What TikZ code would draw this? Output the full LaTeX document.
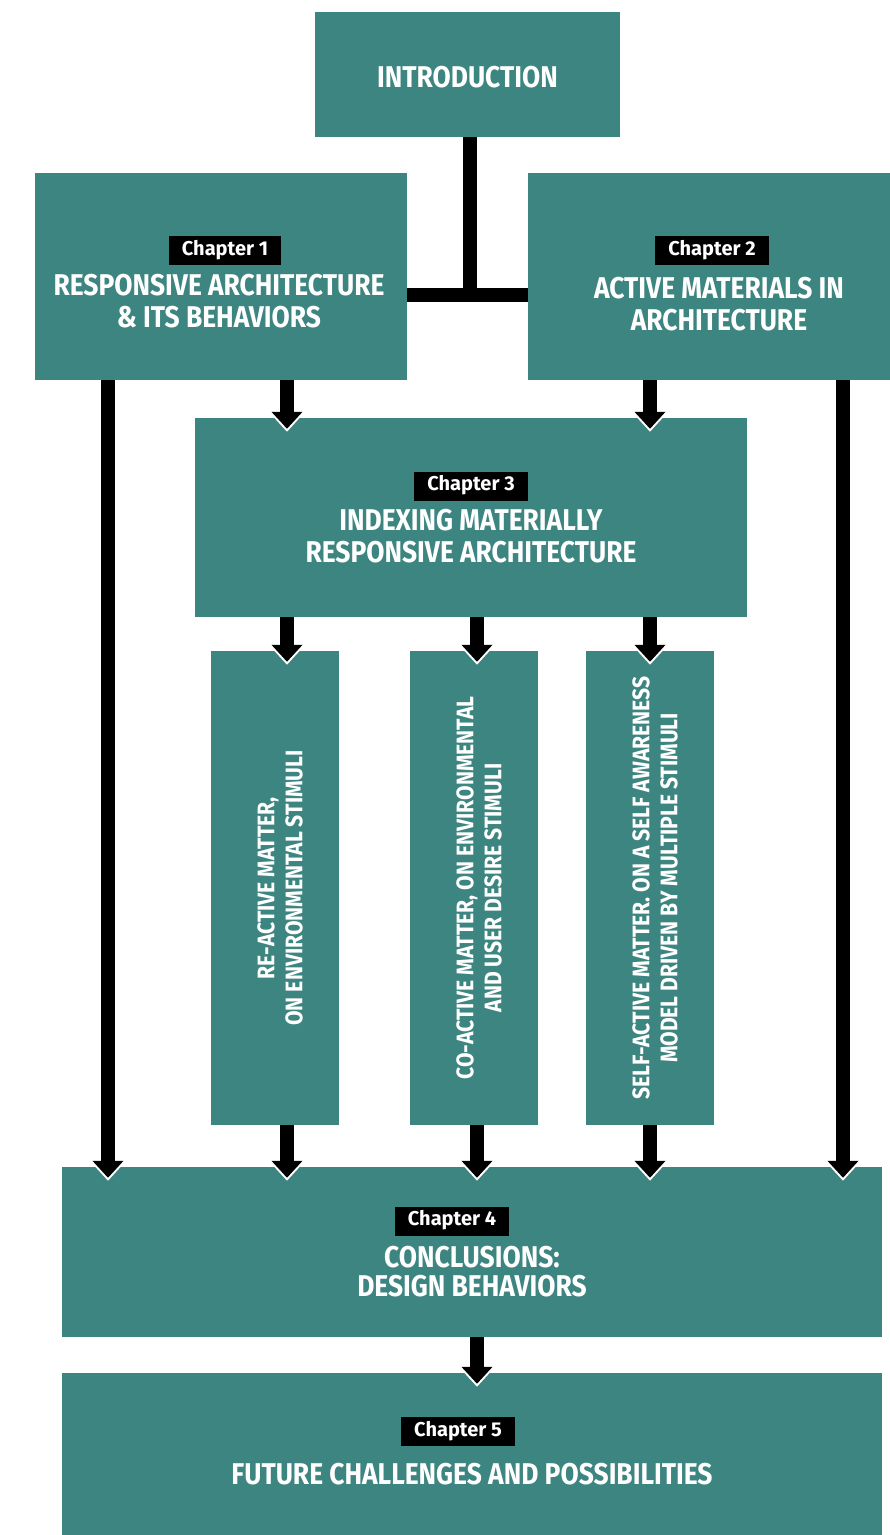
\documentclass[tikz,border=0pt]{standalone}
\usepackage{fontspec}
\setmainfont{Fira Sans}[FakeStretch=0.88]
\newfontfamily\tagfont{Fira Sans}
\usepackage{xcolor}
\usetikzlibrary{arrows.meta}

\definecolor{chapterteal}{HTML}{3D8580}
% optional argument: trailing space, nudges the tag sideways by half of it
\newcommand{\chaptertag}[2][0pt]{{\tagfont\fontsize{20}{19}\selectfont\setlength{\fboxsep}{4pt}\colorbox{black}{\strut\hspace{9pt}#2\hspace{9pt}}\hspace*{#1}}}

\begin{document}
\begin{tikzpicture}[x=1pt, y=-1pt,
    box/.style={fill=chapterteal, inner sep=0pt},
    boxtext/.style={text=white, inner sep=0pt, align=center, font=\bfseries\fontsize{30}{32}\selectfont},
    vtext/.style={text=white, inner sep=0pt, align=center, rotate=90, font=\bfseries\fontsize{24}{28}\selectfont},
    bar/.style={line width=14pt, draw=black},
    flow/.style={line width=14pt, draw=black, shorten >=-11pt, -{Triangle[width=30pt,length=17pt]},
        preaction={draw=white, line width=14pt, shorten >=-14pt, -{Triangle[width=37pt,length=21pt]}}}]

    \useasboundingbox (0,0) rectangle (890,1535);

    % Chapter boxes
    \node[box, minimum width=305pt, minimum height=125pt] (intro) at (467.5,74.5) {};
    \node[box, minimum width=372pt, minimum height=207pt] (ch1) at (221,276.5) {};
    \node[box, minimum width=362pt, minimum height=207pt] (ch2) at (709,276.5) {};
    \node[box, minimum width=552pt, minimum height=199pt] (ch3) at (471,517.5) {};
    \node[box, minimum width=820pt, minimum height=170pt] (ch4) at (472,1252) {};
    \node[box, minimum width=820pt, minimum height=162pt] (ch5) at (472,1454) {};

    % Chapter titles
    \node[boxtext] (introtitle) at ([yshift=-3pt]intro.center) {INTRODUCTION};
    \node[boxtext] (ch1title) at ([xshift=-2pt, yshift=-5.5pt]ch1.center) {\chaptertag[-12pt]{Chapter 1}\\[8pt] RESPONSIVE ARCHITECTURE\\ \& ITS BEHAVIORS};
    \node[boxtext] (ch2title) at ([xshift=10pt, yshift=-7pt]ch2.center) {\chaptertag[14pt]{Chapter 2}\\[11pt] ACTIVE MATERIALS IN\\ ARCHITECTURE};
    \node[boxtext] (ch3title) at (ch3.center) {\chaptertag{Chapter 3}\\[8pt] INDEXING MATERIALLY\\ RESPONSIVE ARCHITECTURE};
    \node[boxtext] (ch4title) at (ch4.center) {\chaptertag[40pt]{Chapter 4}\\[10pt] CONCLUSIONS:\\[-3pt] DESIGN BEHAVIORS};
    \node[boxtext] (ch5title) at ([yshift=3pt]ch5.center) {\chaptertag[28pt]{Chapter 5}\\[16pt] FUTURE CHALLENGES AND POSSIBILITIES};

    % Behaviour columns
    \node[box, minimum width=128pt, minimum height=474pt] (reA) at (275,888) {};
    \node[box, minimum width=128pt, minimum height=474pt] (coB) at (474,888) {};
    \node[box, minimum width=128pt, minimum height=474pt] (selfC) at (650,888) {};
    \node[vtext] (reAtext) at ([xshift=5pt]reA.center) {RE-ACTIVE MATTER,\\ ON ENVIRONMENTAL STIMULI};
    \node[vtext] (coBtext) at ([xshift=5pt]coB.center) {CO-ACTIVE MATTER, ON ENVIRONMENTAL\\ AND USER DESIRE STIMULI};
    \node[vtext] (selfCtext) at ([xshift=5pt]selfC.center) {SELF-ACTIVE MATTER. ON A SELF AWARENESS\\ MODEL DRIVEN BY MULTIPLE STIMULI};

    % Lanes for the arrows
    \coordinate (junction) at (470,295);
    \coordinate (laneA) at (108,0);
    \coordinate (laneB) at (287,0);
    \coordinate (laneC) at (477,0);
    \coordinate (laneD) at (650,0);
    \coordinate (laneE) at (843,0);

    % Draw connections
    \draw[bar] (intro.south -| junction) -- (junction);
    \draw[bar] (ch1.east |- junction) -- (ch2.west |- junction);

    \draw[flow] (ch1.south -| laneB) -- (ch3.north -| laneB);
    \draw[flow] (ch2.south -| laneD) -- (ch3.north -| laneD);
    \draw[flow] (ch1.south -| laneA) -- (ch4.north -| laneA);
    \draw[flow] (ch2.south -| laneE) -- (ch4.north -| laneE);

    \foreach \col/\lane in {reA/laneB, coB/laneC, selfC/laneD} {
        \draw[flow] (ch3.south -| \lane) -- (\col.north -| \lane);
        \draw[flow] (\col.south -| \lane) -- (ch4.north -| \lane);
    }

    \draw[flow] (ch4.south -| laneC) -- (ch5.north -| laneC);

\end{tikzpicture}
\end{document}
